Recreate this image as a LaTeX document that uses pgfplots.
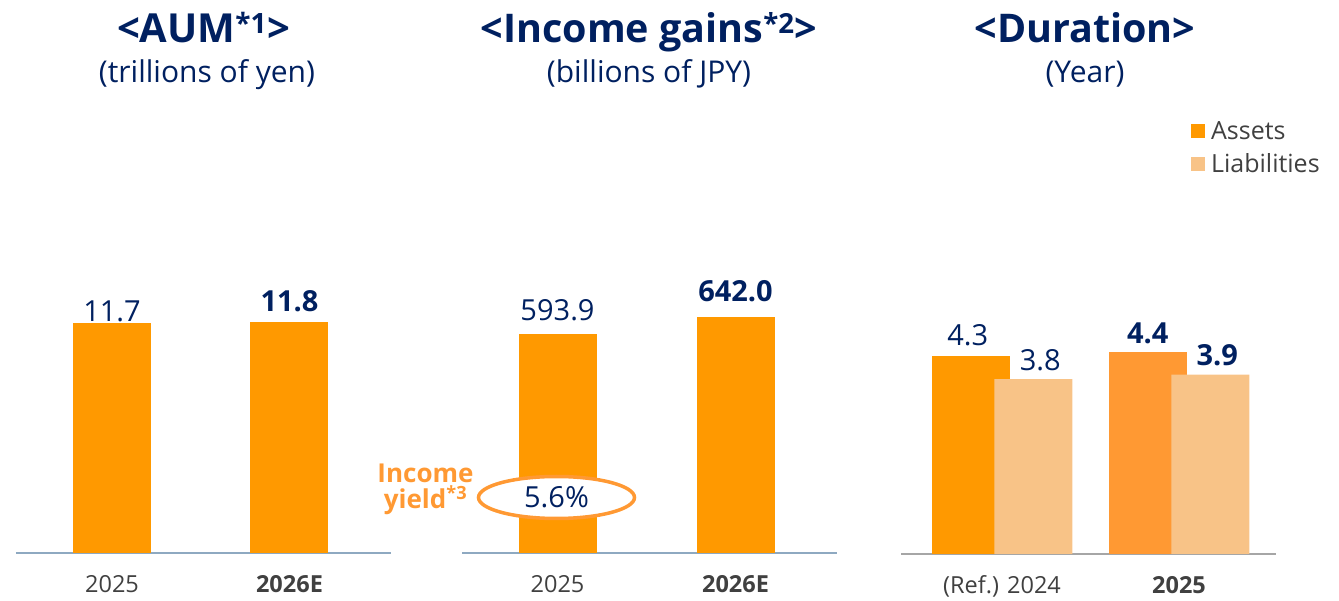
\documentclass[border=0pt]{standalone}
\usepackage{fontspec}
\setmainfont{Open Sans}
\usepackage{pgfplots}
\pgfplotsset{compat=1.18}

\definecolor{navy}{HTML}{002060}
\definecolor{org}{HTML}{FF9900}
\definecolor{org2}{HTML}{FF9933}
\definecolor{liab}{HTML}{F8C387}
\definecolor{txtgray}{HTML}{404040}
\definecolor{lineblue}{HTML}{8EA9C1}
\definecolor{linegray}{HTML}{A6A6A6}

\newcommand{\fs}[1]{\fontsize{#1}{#1}\selectfont}

\pgfplotsset{
  panel/.style={
    scale only axis, width=375pt, height=250pt, ymin=0,
    hide y axis, axis x line*=bottom,
    x axis line style={-, line width=2pt, draw=lineblue},
    xtick={0,1}, major tick length=0pt,
    x tick label style={font=\fs{23.5}, text=txtgray, anchor=base, yshift=-39pt},
    clip=false,
    point meta=explicit symbolic,
  },
  bars/.style={ybar, bar shift=0pt, bar width=78pt, draw=none, fill=org,
    nodes near coords,
    nodes near coords style={font=\fs{29}, text=navy, anchor=base}},
}

\begin{document}
\begin{tikzpicture}
\path (0,0) rectangle (1339pt,595pt);

% AUM
\begin{axis}[panel, at={(16pt,41.5pt)}, anchor=south west,
  xmin=-0.541, xmax=1.572, ymax=12.716,
  xticklabels={2025, \textbf{2026E}}]
\addplot[bars, nodes near coords style={yshift=1.5pt}] coordinates {(0,11.7) [11.7]};
\addplot[bars, nodes near coords style={yshift=10pt}] coordinates {(1,11.8) [\textbf{11.8}]};
\end{axis}

% Income gains
\begin{axis}[panel, at={(462pt,41.5pt)}, anchor=south west,
  xmin=-0.5365, xmax=1.570, ymax=677.5,
  xticklabels={2025, \textbf{2026E}}]
\addplot[bars, nodes near coords style={yshift=13.5pt}] coordinates {(0,593.9) [593.9]};
\addplot[bars, nodes near coords style={yshift=15pt}] coordinates {(1,642.0) [\textbf{642.0}]};
\end{axis}

% Duration
\begin{axis}[panel, at={(901pt,41pt)}, anchor=south west,
  xmin=-0.571, xmax=1.548, ymax=5.435,
  x axis line style={draw=linegray},
  xticklabels={(Ref.) 2024, \textbf{2025}},
  legend style={at={(0.773,1.74)}, anchor=north west, draw=none, fill=none,
    font=\fs{25}, text=txtgray, row sep=9pt, inner sep=0pt,
    cells={anchor=west}},
  legend image code/.code={\fill[#1] (0pt,-7pt) rectangle (14pt,7pt); \path (18pt,0pt);}]
\addplot[bars, nodes near coords style={xshift=-3pt, yshift=11pt}]
  coordinates {(-0.1766,4.3) [4.3]};
\addplot[bars, forget plot, fill=org2, nodes near coords style={yshift=8pt}]
  coordinates {(0.8234,4.4) [\textbf{4.4}]};
\addplot[bars, fill=liab, nodes near coords style={xshift=7pt, yshift=9pt}]
  coordinates {(0.1766,3.8) [3.8] (1.1766,3.9) [\textbf{3.9}]};
\legend{Assets, Liabilities}
\end{axis}

% titles
\node[anchor=base, text=navy, font=\fs{40}\bfseries] at (203.5pt,552pt) {<AUM\textsuperscript{*1}>};
\node[anchor=base, text=navy, font=\fs{30}] at (207pt,512pt) {(trillions of yen)};
\node[anchor=base, text=navy, font=\fs{39.5}\bfseries] at (649pt,552pt) {<Income gains\textsuperscript{*2}>};
\node[anchor=base, text=navy, font=\fs{30}] at (649pt,512pt) {(billions of JPY)};
\node[anchor=base, text=navy, font=\fs{39.5}\bfseries] at (1085pt,552pt) {<Duration>};
\node[anchor=base, text=navy, font=\fs{30}] at (1085pt,512pt) {(Year)};

% income yield
\draw[org2, line width=3.5pt, fill=white] (556.5pt,97.5pt) ellipse (78pt and 21pt);
\node[text=navy, font=\fs{29}] at (556.5pt,97.5pt) {5.6\%};
\node[anchor=base, inner sep=0pt, align=center, text=org2, font=\fontsize{26}{26}\selectfont\bfseries]
  at (425.5pt,86pt) {Income\\yield\textsuperscript{*3}};
\end{tikzpicture}
\end{document}
